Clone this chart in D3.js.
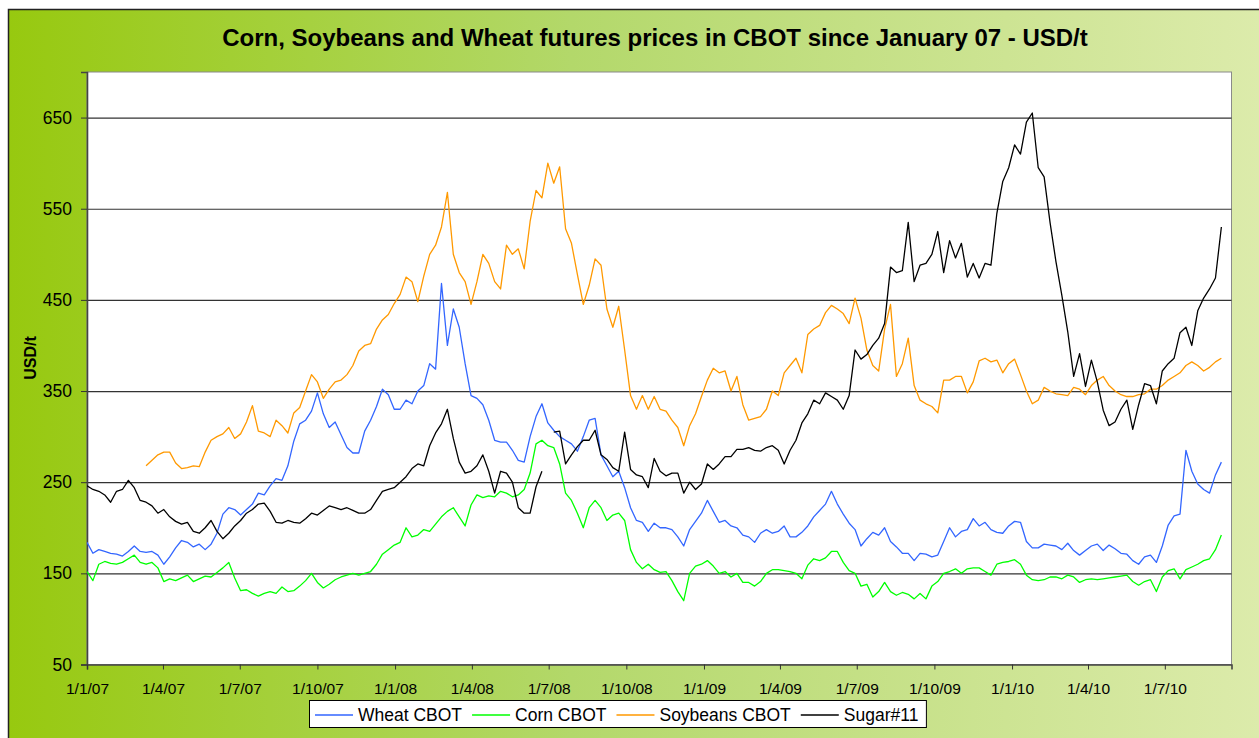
<!DOCTYPE html>
<html>
<head>
<meta charset="utf-8">
<script src="https://cdn.jsdelivr.net/npm/d3@7"></script>
<style>
  body { margin: 0; background: #fff; }
  text { font-family: "Liberation Sans", Arial, sans-serif; }
</style>
</head>
<body>
<div id="canvas"></div>
<script>
// chart size and plot box
var W = 1259, H = 738;
var margin = { top: 72, right: 27.5, bottom: 73.5, left: 87 },
  width = W - margin.left - margin.right,
  height = H - margin.top - margin.bottom;

var title = "Corn, Soybeans and Wheat futures prices in CBOT since January 07 - USD/t";
var yTitle = "USD/t";

// weekly observations, first week starts 1/1/07
var firstWeek = "1/1/07";
var lastDay = "18/9/10";

var xTickLabels = ["1/1/07", "1/4/07", "1/7/07", "1/10/07", "1/1/08", "1/4/08", "1/7/08",
  "1/10/08", "1/1/09", "1/4/09", "1/7/09", "1/10/09", "1/1/10", "1/4/10", "1/7/10"];
var yTicks = [50, 150, 250, 350, 450, 550, 650];

var seriesNames = ["Wheat CBOT", "Corn CBOT", "Soybeans CBOT", "Sugar#11"];
var seriesColors = ["#3366ff", "#00ff00", "#ff9900", "#000000"];

var wheat = [
  184, 172, 176, 174, 172, 171, 169, 174, 180, 174,
  173, 174, 170, 160, 168, 178, 186, 184, 179, 182,
  176, 182, 194, 215, 222, 220, 214, 220, 226, 238,
  236, 246, 254, 252, 268, 295, 314, 318, 328, 348,
  325, 310, 316, 302, 288, 282, 282, 306, 318, 333,
  352, 346, 330, 330, 340, 336, 350, 356, 380, 374,
  468, 400, 440, 420, 380, 345, 342, 335, 318, 296,
  294, 294, 285, 274, 272, 300, 322, 336, 315, 307,
  300, 296, 292, 284, 300, 318, 320, 280, 268, 256,
  262, 244, 222, 208, 206, 196, 205, 200, 200, 198,
  190, 180, 198, 207, 216, 230, 218, 206, 208, 202,
  200, 192, 190, 184, 194, 198, 194, 196, 202, 190,
  190, 195, 202, 212, 219, 226, 240, 226, 215, 205,
  198, 180, 188, 195, 192, 200, 185, 179, 172, 172,
  164, 172, 171, 168, 170, 185, 200, 190, 196, 198,
  210, 202, 206, 198, 195, 194, 202, 207, 206, 185,
  178, 178, 182, 181, 180, 176, 183, 175, 170, 175,
  180, 182, 175, 181, 177, 172, 171, 164, 160, 168,
  170, 162, 180, 203, 213, 215, 285, 262, 248, 242,
  238, 258, 272
];

var corn = [
  152, 142, 160, 163, 161, 160, 162, 166, 170, 162,
  160, 162, 156, 141, 144, 142, 145, 148, 141, 144,
  147, 146, 151, 156, 162, 145, 131, 132, 128, 125,
  128, 130, 128, 135, 130, 131, 136, 142, 150, 140,
  134, 138, 143, 146, 148, 150, 148, 150, 152, 160,
  171, 176, 181, 184, 200, 190, 192, 198, 196, 204,
  212, 218, 222, 212, 202, 225, 236, 233, 235, 234,
  240, 238, 234, 236, 242, 260, 292, 296, 290, 288,
  270, 238, 230, 216, 200, 222, 230, 222, 208, 214,
  216, 208, 176, 162, 155, 160, 154, 151, 152, 142,
  130, 120, 150, 158, 160, 164, 158, 150, 152, 146,
  150, 140, 140, 136, 141, 150, 154, 154, 153, 152,
  150, 144, 159, 166, 164, 167, 174, 174, 162, 153,
  150, 136, 138, 124, 130, 140, 130, 126, 129, 127,
  122, 128, 122, 136, 141, 150, 152, 155, 150, 155,
  156, 156, 152, 148, 160, 162, 163, 165, 160, 148,
  143, 142, 143, 146, 146, 144, 148, 146, 140, 143,
  144, 143, 144, 145, 146, 147, 148, 141, 137, 141,
  143, 130, 146, 153, 155, 144, 154, 157, 160, 164,
  166, 176, 192
];

var soybeans = [
  null, null, null, null, null, null, null, null, null, null,
  268, 274, 280, 283, 283, 271, 265, 266, 268, 267,
  283, 296, 300, 303, 310, 298, 303, 316, 334, 306,
  304, 300, 318, 312, 304, 326, 332, 350, 368, 360,
  342, 352, 360, 362, 368, 378, 394, 400, 402, 418,
  428, 434, 446, 456, 475, 470, 448, 476, 500, 510,
  530, 568, 500, 480, 470, 445, 470, 500, 490, 470,
  462, 510, 500, 506, 484, 536, 570, 562, 600, 578,
  596, 528, 512, 478, 445, 466, 495, 488, 440, 420,
  443, 395, 345, 330, 345, 330, 344, 330, 328, 318,
  310, 290, 312, 325, 344, 362, 375, 370, 372, 350,
  366, 335, 318, 320, 322, 330, 350, 345, 370, 378,
  386, 370, 412, 418, 422, 436, 444, 440, 435, 424,
  452, 430, 395, 378, 372, 418, 445, 366, 380, 408,
  356, 340, 336, 333, 326, 362, 362, 366, 366, 348,
  360, 383, 386, 382, 384, 370, 380, 385, 368, 350,
  336, 340, 354, 350, 347, 346, 345, 354, 352, 346,
  356, 362, 366, 356, 350, 346, 344, 344, 346, 347,
  352, 352, 356, 362, 366, 370, 378, 382, 378, 372,
  376, 382, 386
];

var sugar = [
  246, 242, 240, 236, 228, 240, 242, 252, 244, 230,
  228, 224, 216, 220, 212, 207, 204, 206, 196, 194,
  200, 208, 196, 188, 194, 202, 208, 216, 220, 226,
  227, 218, 206, 205, 208, 206, 205, 210, 216, 214,
  219, 224, 222, 220, 222, 219, 216, 216, 220, 230,
  240, 242, 244, 250, 256, 265, 270, 268, 290, 304,
  314, 330, 298, 272, 260, 262, 268, 280, 262, 238,
  262, 260, 250, 222, 216, 216, 245, 262, null, 305,
  306, 270, 280, 289, 296, 296, 307, 280, 275, 266,
  262, 305, 264, 258, 256, 244, 276, 262, 257, 260,
  260, 238, 250, 242, 248, 270, 264, 270, 278, 278,
  286, 286, 288, 285, 284, 288, 290, 285, 270, 285,
  296, 315, 325, 340, 336, 348, 344, 340, 330, 345,
  395, 385, 390, 400, 408, 424, 486, 480, 482, 535,
  470, 488, 490, 500, 525, 480, 515, 496, 512, 475,
  490, 474, 490, 488, 545, 580, 595, 620, 610, 645,
  655, 595, 585, 535, 492, 455, 415, 366, 391, 355,
  384, 360, 329, 312, 316, 330, 340, 308, 335, 358,
  356, 336, 372, 380, 386, 414, 420, 400, 438, 452,
  462, 474, 530
];

var allSeries = [wheat, corn, soybeans, sugar];

var parseDay = d3.timeParse("%d/%m/%y");
var start = parseDay(firstWeek);
var dates = wheat.map((d, i) => d3.timeDay.offset(start, 7 * i));

var svg = d3
  .select("#canvas")
  .append("svg")
  .attr("width", W)
  .attr("height", H);

// background gradient of the chart area
var defs = svg.append("defs");
var grad = defs
  .append("linearGradient")
  .attr("id", "bg")
  .attr("gradientUnits", "userSpaceOnUse")
  .attr("x1", 8).attr("x2", W).attr("y1", 0).attr("y2", 0);
grad.append("stop").attr("offset", "0%").attr("stop-color", "#97c90f");
grad.append("stop").attr("offset", "45%").attr("stop-color", "#b3d86a");
grad.append("stop").attr("offset", "100%").attr("stop-color", "#dcebab");

defs
  .append("clipPath")
  .attr("id", "clip")
  .append("rect")
  .attr("width", width)
  .attr("height", height);

svg
  .append("rect")
  .attr("x", 8.5)
  .attr("y", 9.5)
  .attr("width", W + 20)
  .attr("height", H + 20)
  .attr("fill", "url(#bg)")
  .attr("stroke", "#222")
  .attr("stroke-width", 1.5);

svg
  .append("text")
  .attr("x", 655)
  .attr("y", 45.5)
  .attr("text-anchor", "middle")
  .attr("font-size", "24px")
  .attr("font-weight", "bold")
  .text(title);

svg
  .append("text")
  .attr("transform", "translate(36,358) rotate(-90)")
  .attr("text-anchor", "middle")
  .attr("font-size", "16px")
  .attr("font-weight", "bold")
  .text(yTitle);

var g = svg
  .append("g")
  .attr("transform", "translate(" + margin.left + "," + margin.top + ")");

g.append("rect")
  .attr("width", width)
  .attr("height", height)
  .attr("fill", "#fff")
  .attr("stroke", "#8a8a8a")
  .attr("stroke-width", 1);

var xScale = d3.scaleTime().domain([start, parseDay(lastDay)]).range([0, width]);
var yScale = d3.scaleLinear().domain([50, 700]).range([height, 0]);

// gridlines
g.append("g")
  .attr("class", "grid")
  .call(d3.axisLeft(yScale).tickValues(yTicks.slice(1)).tickSize(-width).tickFormat(""))
  .call((s) => s.select(".domain").remove())
  .selectAll("line")
  .attr("stroke", "#333")
  .attr("stroke-width", 1.2);

// y-axis
var yAxis = g
  .append("g")
  .call(d3.axisLeft(yScale).tickValues(yTicks).tickSize(6).tickPadding(9).tickFormat(d3.format("d")));
yAxis.selectAll("text").attr("font-size", "17.5px").attr("fill", "#000").attr("font-family", "Liberation Sans, Arial");
yAxis.selectAll("line").attr("stroke", "#333");
yAxis.select(".domain").attr("stroke", "#444").attr("stroke-width", 1.6);

// x-axis
var xAxis = g
  .append("g")
  .attr("transform", "translate(0," + height + ")")
  .call(
    d3.axisBottom(xScale)
      .tickValues(xTickLabels.map(parseDay))
      .tickSize(5)
      .tickPadding(13.5)
      .tickFormat((d, i) => xTickLabels[i])
  );
xAxis.selectAll("text").attr("font-size", "15.5px").attr("fill", "#000").attr("font-family", "Liberation Sans, Arial");
xAxis.selectAll("line").attr("stroke", "#333");
xAxis.select(".domain").attr("stroke", "#444").attr("stroke-width", 1.6);

// series lines
var line = d3
  .line()
  .defined((d) => d != null)
  .x((d, i) => xScale(dates[i]))
  .y((d) => yScale(d));

g.append("g")
  .attr("clip-path", "url(#clip)")
  .selectAll("path")
  .data(allSeries)
  .enter()
  .append("path")
  .attr("d", line)
  .attr("fill", "none")
  .attr("stroke", (d, i) => seriesColors[i])
  .attr("stroke-width", 1.3)
  .attr("stroke-linejoin", "round");

// legend
var legend = svg.append("g");
var legendBox = legend
  .append("rect")
  .attr("x", 309.5)
  .attr("y", 700.5)
  .attr("height", 27)
  .attr("fill", "#fff")
  .attr("stroke", "#000")
  .attr("stroke-width", 1);

var lx = 315;
seriesNames.forEach(function (name, i) {
  legend
    .append("line")
    .attr("x1", lx)
    .attr("x2", lx + 38)
    .attr("y1", 715)
    .attr("y2", 715)
    .attr("stroke", seriesColors[i])
    .attr("stroke-width", 1.5);
  var t = legend
    .append("text")
    .attr("x", lx + 43)
    .attr("y", 721)
    .attr("font-size", "17.5px")
    .text(name);
  lx = lx + 43 + t.node().getComputedTextLength() + 10;
});
legendBox.attr("width", lx - 2 - 309.5);
</script>
</body>
</html>
